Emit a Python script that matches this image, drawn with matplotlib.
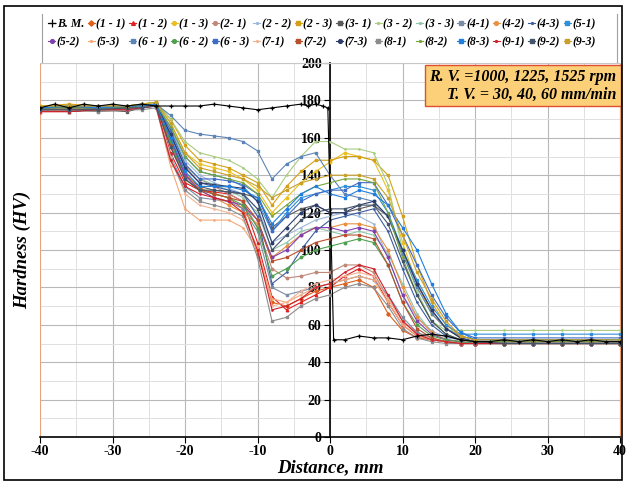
import matplotlib
matplotlib.use("Agg")
import matplotlib.pyplot as plt
from matplotlib.ticker import MultipleLocator

plt.rcParams["font.family"] = ["Liberation Serif", "DejaVu Serif"]
plt.rcParams["axes.unicode_minus"] = False

# Base metal profile
bm_x = [-40, -38, -36, -34, -32, -30, -28, -26, -24, -22, -20, -18, -16, -14, -12, -10, -8, -6, -4, -3, -2, -1, -0.3,
        0.5, 2, 4, 6, 8, 10, 12, 14, 16, 18, 20, 22, 24, 26, 28, 30, 32, 34, 36, 38, 40]
bm_y = [176, 178, 176, 178, 177, 178, 177, 178, 177, 177, 177, 177, 178, 177, 176, 175, 176, 177, 178, 177, 178, 177, 176,
        52, 52, 54, 53, 53, 52, 54, 55, 54, 52, 51, 51, 52, 51, 52, 51, 52, 51, 52, 51, 51]

# Weld zone profiles, common distance grid (mm)
x = [-40, -36, -32, -28, -26, -24, -22, -20, -18, -16, -14, -12, -10, -8, -6, -4, -2, 0,
     2, 4, 6, 8, 10, 12, 14, 16, 18, 20, 24, 28, 32, 36, 40]

s11 = [175, 176, 175, 176, 177, 178, 160, 140, 133, 130, 128, 122, 98, 72, 70, 74, 78, 80, 82, 84, 80, 66, 57, 53, 52, 51, 50, 50, 50, 50, 50, 50, 50]
s12 = [174, 174, 175, 175, 176, 178, 152, 136, 132, 131, 130, 126, 104, 75, 68, 72, 76, 80, 86, 90, 86, 72, 60, 54, 52, 51, 50, 50, 50, 50, 50, 50, 50]
s13 = [177, 177, 176, 177, 178, 179, 168, 152, 146, 144, 142, 138, 132, 120, 128, 136, 142, 147, 152, 150, 148, 132, 104, 82, 66, 58, 54, 52, 52, 52, 52, 52, 52]
s21 = [175, 176, 175, 176, 177, 178, 162, 145, 138, 134, 130, 126, 112, 90, 85, 86, 88, 88, 92, 92, 88, 74, 62, 56, 53, 51, 50, 50, 50, 50, 50, 50, 50]
s22 = [176, 176, 177, 176, 177, 178, 165, 148, 140, 136, 133, 130, 122, 104, 108, 112, 116, 118, 120, 118, 114, 96, 76, 64, 57, 53, 52, 51, 51, 51, 51, 51, 51]
s23 = [177, 178, 177, 177, 178, 179, 170, 156, 148, 146, 144, 140, 136, 124, 134, 142, 148, 148, 150, 150, 148, 140, 118, 92, 72, 60, 54, 52, 52, 52, 52, 52, 52]
s31 = [175, 174, 175, 174, 176, 178, 158, 140, 134, 132, 131, 130, 128, 112, 118, 122, 124, 120, 120, 122, 124, 118, 100, 82, 68, 58, 53, 51, 50, 50, 50, 50, 50]
s32 = [176, 177, 176, 177, 178, 179, 170, 158, 152, 150, 148, 144, 138, 128, 140, 150, 158, 158, 154, 154, 152, 135, 100, 78, 62, 57, 57, 57, 57, 57, 57, 57, 57]
s33 = [176, 176, 176, 177, 177, 178, 164, 146, 138, 135, 132, 128, 120, 100, 104, 110, 112, 110, 108, 110, 108, 98, 82, 66, 56, 52, 51, 50, 50, 50, 50, 50, 50]
s41 = [174, 175, 174, 175, 176, 177, 150, 134, 128, 127, 126, 122, 110, 80, 76, 78, 80, 82, 84, 86, 84, 76, 64, 56, 52, 51, 50, 50, 50, 50, 50, 50, 50]
s42 = [175, 175, 176, 176, 177, 178, 160, 142, 132, 128, 124, 120, 114, 96, 102, 108, 112, 112, 114, 114, 112, 100, 80, 64, 56, 52, 51, 50, 50, 50, 50, 50, 50]
s43 = [176, 176, 176, 176, 177, 178, 162, 144, 136, 134, 132, 130, 118, 82, 88, 100, 110, 116, 118, 120, 122, 110, 90, 72, 60, 54, 52, 51, 51, 51, 51, 51, 51]
s51 = [176, 177, 176, 176, 177, 178, 166, 150, 142, 140, 138, 134, 126, 110, 120, 128, 130, 132, 134, 134, 132, 120, 100, 84, 70, 60, 55, 55, 55, 55, 55, 55, 55]
s52 = [175, 175, 176, 175, 177, 178, 160, 140, 132, 128, 126, 124, 116, 96, 100, 108, 112, 112, 110, 112, 110, 96, 76, 62, 55, 52, 51, 50, 50, 50, 50, 50, 50]
s53 = [174, 175, 174, 175, 176, 177, 145, 122, 116, 116, 116, 112, 100, 74, 72, 76, 80, 82, 84, 86, 84, 72, 60, 54, 52, 51, 50, 50, 50, 50, 50, 50, 50]
s61 = [176, 176, 177, 176, 177, 178, 172, 164, 162, 161, 160, 158, 153, 138, 146, 150, 152, 140, 130, 128, 126, 118, 98, 80, 66, 58, 54, 52, 52, 52, 52, 52, 52]
s62 = [175, 176, 175, 176, 177, 178, 158, 138, 132, 130, 128, 124, 112, 86, 90, 96, 100, 102, 104, 106, 104, 92, 72, 60, 54, 52, 51, 50, 50, 50, 50, 50, 50]
s63 = [176, 176, 176, 177, 177, 178, 164, 146, 138, 138, 137, 135, 130, 110, 118, 126, 130, 132, 132, 136, 136, 124, 108, 92, 76, 64, 56, 53, 53, 53, 53, 53, 53]
s71 = [175, 176, 175, 176, 177, 178, 150, 130, 124, 122, 120, 116, 102, 70, 72, 78, 82, 84, 86, 88, 86, 74, 62, 55, 52, 51, 50, 50, 50, 50, 50, 50, 50]
s72 = [175, 175, 175, 176, 177, 178, 156, 138, 132, 130, 128, 126, 116, 94, 96, 100, 104, 106, 108, 108, 106, 92, 72, 58, 53, 51, 50, 50, 50, 50, 50, 50, 50]
s73 = [176, 176, 176, 176, 177, 178, 162, 144, 136, 135, 134, 133, 126, 104, 112, 120, 124, 120, 120, 124, 126, 118, 100, 82, 68, 58, 53, 51, 51, 51, 51, 51, 51]
s81 = [175, 175, 174, 175, 175, 176, 148, 132, 126, 124, 122, 118, 96, 62, 64, 70, 74, 76, 80, 82, 80, 70, 58, 53, 51, 50, 50, 50, 50, 50, 50, 50, 50]
s82 = [176, 176, 176, 176, 177, 178, 166, 150, 142, 140, 138, 136, 130, 118, 124, 130, 134, 136, 138, 138, 136, 120, 96, 76, 62, 55, 52, 51, 51, 51, 51, 51, 51]
s83 = [176, 177, 176, 177, 177, 178, 160, 142, 134, 134, 134, 132, 128, 114, 122, 130, 134, 130, 128, 132, 130, 124, 112, 100, 82, 66, 56, 52, 52, 52, 52, 52, 52]
s91 = [174, 174, 175, 175, 176, 177, 148, 134, 130, 128, 126, 120, 100, 68, 70, 74, 80, 82, 88, 92, 90, 76, 62, 55, 52, 51, 50, 50, 50, 50, 50, 50, 50]
s92 = [175, 175, 175, 176, 176, 177, 155, 138, 132, 132, 131, 130, 122, 100, 108, 116, 120, 122, 122, 124, 124, 114, 94, 76, 62, 55, 52, 51, 50, 50, 50, 50, 50]
s93 = [177, 177, 177, 177, 178, 179, 168, 152, 144, 142, 140, 138, 134, 128, 132, 136, 138, 140, 140, 140, 138, 128, 108, 88, 74, 62, 54, 52, 52, 52, 52, 52, 52]

labels = ["(1 - 1)", "(1 - 2)", "(1 - 3)", "(2- 1)", "(2 - 2)", "(2 - 3)", "(3- 1)", "(3 - 2)", "(3 - 3)",
          "(4-1)", "(4-2)", "(4-3)", "(5-1)", "(5-2)", "(5-3)", "(6 - 1)", "(6 - 2)", "(6 - 3)",
          "(7-1)", "(7-2)", "(7-3)", "(8-1)", "(8-2)", "(8-3)", "(9-1)", "(9-2)", "(9-3)"]
series = [s11, s12, s13, s21, s22, s23, s31, s32, s33, s41, s42, s43, s51, s52, s53,
          s61, s62, s63, s71, s72, s73, s81, s82, s83, s91, s92, s93]
colors = ["#e0601c", "#e02020", "#e8c020", "#c08878", "#9ab8dc", "#d4a017", "#5a5a5a", "#a8cc80", "#8fc4a8",
          "#7a8ca4", "#e89040", "#3c5ca0", "#2f8fd8", "#8040b0", "#f4a878", "#5b84b8", "#4ea050", "#3f6cc4",
          "#f2b496", "#b85030", "#2c3c6c", "#8c8c8c", "#78a43c", "#1f7fe0", "#d0202c", "#44546a", "#c8a028"]
markers = ["D", "^", "o", "o", ".", "s", "s", ".", ".", "s", "o", ".", "s", "o", ".",
           "s", "o", "s", ".", "s", "o", "s", ".", "s", ".", "s", "s"]

fig = plt.figure(figsize=(6.26, 4.83), dpi=100)
ax = fig.add_axes([40 / 626, 1 - 437 / 483, 580 / 626, 374 / 483])

handles = []
h, = ax.plot(bm_x, bm_y, color="black", lw=0.8, marker="+", ms=3.5, mew=0.9, label="B. M.", zorder=5)
handles.append(h)
for ys, lab, c, m in zip(series, labels, colors, markers):
    h, = ax.plot(x, ys, color=c, lw=0.8, marker=m, ms=1.8, label=lab, zorder=3)
    handles.append(h)

ax.set_xlim(-40, 40)
ax.set_ylim(0, 200)
ax.xaxis.set_major_locator(MultipleLocator(10))
ax.yaxis.set_major_locator(MultipleLocator(20))
ax.xaxis.set_minor_locator(MultipleLocator(5))
ax.yaxis.set_minor_locator(MultipleLocator(10))
ax.grid(which="major", color="#b8b8b8", lw=0.8)
ax.grid(which="minor", color="#e0e0e0", lw=0.7)
ax.set_axisbelow(True)

ax.spines["left"].set_position(("data", 0))
ax.spines["left"].set_linewidth(1.2)
ax.spines["bottom"].set_linewidth(1.2)
ax.spines["right"].set_color("#f0a070")
ax.spines["top"].set_color("#c8c8c8")
ax.axvline(-40, color="#f0a070", lw=1.2, zorder=1)
ax.tick_params(axis="both", which="minor", length=0)
ax.tick_params(axis="both", which="major", length=4, labelsize=10, pad=2)
for t in ax.get_xticklabels() + ax.get_yticklabels():
    t.set_fontweight("bold")

ax.set_xlabel("Distance, mm", fontsize=13.5, fontweight="bold", fontstyle="italic", labelpad=1)
fig.text(22 / 626, 1 - 250 / 483, "Hardness (HV)", rotation=90, ha="center", va="center",
         fontsize=13.5, fontweight="bold", fontstyle="italic")

ax.text(0.994, 0.985, "R. V. =1000, 1225, 1525 rpm\nT. V. = 30, 40, 60 mm/min",
        transform=ax.transAxes, ha="right", va="top", fontsize=11.5, fontweight="bold",
        fontstyle="italic", linespacing=1.15, zorder=10,
        bbox=dict(boxstyle="square,pad=0.25", facecolor="#fcd078", edgecolor="#e05030", lw=1.0))

# legend in row-major order across 14 columns
ncol = 14
order = [r * ncol + c for c in range(ncol) for r in range(2)]
leg = fig.legend([handles[i] for i in order], [handles[i].get_label() for i in order],
                 loc="upper left", bbox_to_anchor=(40 / 626, 1 - 10 / 483), ncol=ncol, frameon=False,
                 prop=dict(size=8.5, weight="bold", style="italic"), handlelength=0.6,
                 handletextpad=0.12, columnspacing=0.3, borderpad=0.2, labelspacing=0.5,
                 markerscale=1.5)

fig.patches.append(plt.Rectangle((4 / 626, 3 / 483), 618 / 626, 474 / 483, transform=fig.transFigure,
                                 fill=False, edgecolor="black", lw=1.2))
fig.lines.append(plt.Line2D([42 / 626, 42 / 626], [1 - 62 / 483, 1 - 14 / 483], transform=fig.transFigure,
                            color="#a0a0a0", lw=0.8))
fig.lines.append(plt.Line2D([617 / 626, 617 / 626], [1 - 62 / 483, 1 - 14 / 483], transform=fig.transFigure,
                            color="#a0a0a0", lw=0.8))

fig.savefig("out.png", dpi=100)
